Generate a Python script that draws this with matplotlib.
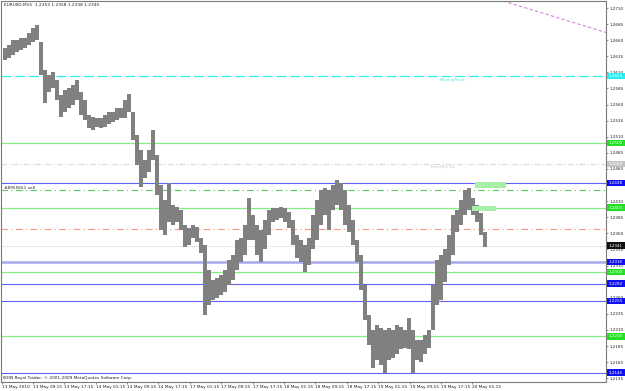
import matplotlib
matplotlib.use("Agg")
import matplotlib.pyplot as plt
import matplotlib.transforms as mtransforms
from matplotlib.patches import Rectangle
import numpy as np

# ---------------- data ----------------
highs = [1.2648, 1.2653, 1.2660, 1.2660, 1.2663, 1.2663, 1.2671, 1.2679, 1.2684, 1.2657,
         1.2614, 1.2606, 1.2611, 1.2598, 1.2575, 1.2583, 1.2586, 1.2590, 1.2598, 1.2580,
         1.2567, 1.2544, 1.2541, 1.2539, 1.2539, 1.2544, 1.2548, 1.2548, 1.2555, 1.2555,
         1.2567, 1.2576, 1.2548, 1.2513, 1.2490, 1.2474, 1.2490, 1.2521, 1.2482, 1.2435,
         1.2412, 1.2438, 1.2404, 1.2401, 1.2397, 1.2373, 1.2368, 1.2373, 1.2370, 1.2353,
         1.2342, 1.2303, 1.2288, 1.2291, 1.2296, 1.2303, 1.2319, 1.2327, 1.2350, 1.2353,
         1.2373, 1.2415, 1.2389, 1.2373, 1.2366, 1.2381, 1.2397, 1.2399, 1.2399, 1.2401,
         1.2399, 1.2393, 1.2381, 1.2358, 1.2350, 1.2342, 1.2353, 1.2389, 1.2412, 1.2428,
         1.2430, 1.2428, 1.2435, 1.2443, 1.2438, 1.2428, 1.2404, 1.2381, 1.2350, 1.2327,
         1.2280, 1.2234, 1.2210, 1.2218, 1.2213, 1.2210, 1.2213, 1.2210, 1.2218, 1.2215,
         1.2210, 1.2229, 1.2210, 1.2195, 1.2195, 1.2203, 1.2210, 1.2280, 1.2319, 1.2327,
         1.2335, 1.2358, 1.2389, 1.2397, 1.2412, 1.2428, 1.2430, 1.2415, 1.2404, 1.2391,
         1.2362]
lows = [1.2629, 1.2632, 1.2637, 1.2642, 1.2645, 1.2648, 1.2653, 1.2657, 1.2660, 1.2606,
        1.2562, 1.2580, 1.2586, 1.2567, 1.2541, 1.2548, 1.2555, 1.2559, 1.2567, 1.2544,
        1.2536, 1.2524, 1.2521, 1.2525, 1.2524, 1.2525, 1.2530, 1.2533, 1.2536, 1.2539,
        1.2539, 1.2548, 1.2505, 1.2466, 1.2432, 1.2446, 1.2455, 1.2474, 1.2420, 1.2366,
        1.2358, 1.2378, 1.2373, 1.2378, 1.2366, 1.2339, 1.2342, 1.2353, 1.2347, 1.2329,
        1.2234, 1.2249, 1.2257, 1.2260, 1.2265, 1.2269, 1.2280, 1.2288, 1.2303, 1.2316,
        1.2327, 1.2350, 1.2350, 1.2327, 1.2316, 1.2335, 1.2358, 1.2378, 1.2381, 1.2384,
        1.2378, 1.2368, 1.2342, 1.2322, 1.2316, 1.2300, 1.2311, 1.2335, 1.2350, 1.2373,
        1.2389, 1.2366, 1.2397, 1.2404, 1.2397, 1.2373, 1.2362, 1.2342, 1.2316, 1.2272,
        1.2226, 1.2187, 1.2151, 1.2164, 1.2155, 1.2143, 1.2164, 1.2166, 1.2172, 1.2180,
        1.2182, 1.2180, 1.2143, 1.2164, 1.2160, 1.2172, 1.2182, 1.2210, 1.2249, 1.2257,
        1.2284, 1.2311, 1.2327, 1.2362, 1.2373, 1.2389, 1.2397, 1.2389, 1.2378, 1.2358,
        1.2339]

time_labels = ["13 May 2010", "13 May 09:15", "13 May 17:15", "14 May 01:15", "14 May 09:15",
               "14 May 17:15", "17 May 01:15", "17 May 09:15", "17 May 17:15", "18 May 01:15",
               "18 May 09:15", "18 May 17:15", "19 May 01:15", "19 May 09:15", "19 May 17:15",
               "20 May 01:15"]
price_ticks = [1.2710, 1.2685, 1.2660, 1.2635, 1.2610, 1.2585, 1.2560, 1.2535, 1.2510,
               1.2485, 1.2460, 1.2435, 1.2410, 1.2385, 1.2360, 1.2335, 1.2310, 1.2285,
               1.2260, 1.2235, 1.2210, 1.2185, 1.2160, 1.2135]

# horizontal levels
level_prices = [1.2604, 1.2500, 1.2468, 1.2438, 1.2427, 1.2400, 1.2367, 1.2341,
                1.2316, 1.2300, 1.2282, 1.2255, 1.2200, 1.2144]
level_kinds = ["pivot", "green", "monthly", "blue", "greendd", "green", "orangedd", "bid",
               "blue2", "green", "blue", "blue", "green", "blue"]
labelled_levels = [1.2604, 1.2500, 1.2468, 1.2438, 1.2400, 1.2341,
                   1.2316, 1.2300, 1.2282, 1.2255, 1.2200, 1.2144]
label_kinds = ["pivot", "green", "monthly", "blue", "green", "bid",
               "blue", "green", "blue", "blue", "green", "blue"]

trend_x = [124.5, 150.25]
trend_y = [1.27209, 1.2672]

order_box_x = [[117.5, 125.25], [116.75, 122.75]]
order_box_y = [[1.2430, 1.2440], [1.2395, 1.2403]]

header = "EURUSD,M15  1.2353 1.2358 1.2338 1.2340"
footer = "IKON Royal Trader, \u00a9 2001-2009 MetaQuotes Software Corp."

# ---------------- layout ----------------
W, H = 625, 391
fig = plt.figure(figsize=(W / 100, H / 100), dpi=100)
fig.patch.set_facecolor("white")
left_px, right_px, top_px, bot_px = 1.5, 606, 1, 382
ax = fig.add_axes([left_px / W, 1 - bot_px / H, (right_px - left_px) / W, (bot_px - top_px) / H])
ax.set_facecolor("white")

ppp = 0.0025 / 16.1          # price per pixel


def price_at(px):
    return 1.2710 - (px - 8) * ppp


def xunit_at(px):
    return (px - 5) / 4.0


ax.set_ylim(price_at(bot_px), price_at(top_px))
ax.set_xlim(xunit_at(left_px), xunit_at(right_px))

hi = np.array(highs)
lo = np.array(lows)
xs = np.arange(len(hi))
ax.bar(xs, hi - lo, bottom=lo, width=1.0, color="#808080", linewidth=0, zorder=3)

styles = {
    "pivot": dict(color="#33eeee", lw=0.9, dashes=(8, 3)),
    "green": dict(color="#80f080", lw=0.9, ls="-"),
    "monthly": dict(color="#e6d4d4", lw=0.8, dashes=(5, 2, 1, 2)),
    "blue": dict(color="#6262f6", lw=0.8, ls="-"),
    "greendd": dict(color="#60c860", lw=0.8, dashes=(6, 3, 1, 3)),
    "orangedd": dict(color="#f59a80", lw=0.8, dashes=(6, 3, 1, 3)),
    "bid": dict(color="#d8cccc", lw=0.7, dashes=(1, 1)),
    "blue2": dict(color="#a8a8ec", lw=1.8, ls="-"),
}
for p, k in zip(level_prices, level_kinds):
    ax.axhline(p, zorder=2, **styles[k])

ax.plot(trend_x, trend_y, color="#d488d4", lw=0.8, dashes=(3, 2), zorder=2, clip_on=True)

for bx, by in zip(order_box_x, order_box_y):
    ax.add_patch(Rectangle((bx[0], by[0]), bx[1] - bx[0], by[1] - by[0],
                           facecolor="#a8f0a8", edgecolor="none", zorder=4))

# annotations
fs = 3.1
ax.text(xunit_at(440), price_at(80.5), "WeeklyPivot", color="#55e0e0", fontsize=fs,
        va="center", ha="left", zorder=5)
ax.text(xunit_at(431), price_at(167), "Monthly S1", color="#c8c8c8", fontsize=fs,
        va="center", ha="left", zorder=5)
ax.text(xunit_at(4.5), price_at(188), "#8955651 sell", color="#202020", fontsize=fs,
        va="center", ha="left", zorder=5)
fig.text(3.5 / W, 1 - 5.3 / H, header, fontsize=fs, va="center", ha="left", color="#202020")
ax.text(xunit_at(3), price_at(378.5), footer, fontsize=fs, va="center", ha="left",
        color="#202020", zorder=5)

# axes styling
for s in ax.spines.values():
    s.set_color("#7a7a7a")
    s.set_linewidth(0.8)
ax.yaxis.tick_right()
ax.set_yticks(price_ticks)
# tick labels lying under a price box are hidden, as in the terminal
tick_texts = []
for p in price_ticks:
    hidden = any(abs(p - q) / ppp < 3.0 for q in labelled_levels)
    tick_texts.append("" if hidden else "%.4f" % p)
ax.set_yticklabels(tick_texts)
ax.tick_params(axis="y", which="both", length=1.5, width=0.6, pad=1.2, labelsize=3.0,
               colors="#7a7a7a", labelcolor="#202020")
tick_pos = [xunit_at(1.5 + 31.4 * k) for k in range(len(time_labels))]
ax.set_xticks(tick_pos)
ax.set_xticklabels(time_labels, ha="left")
ax.tick_params(axis="x", length=1.5, width=0.6, pad=0.6, labelsize=fs,
               colors="#7a7a7a", labelcolor="#202020")

# right-hand price boxes
trans = mtransforms.blended_transform_factory(fig.transFigure, ax.transData)
box_colors = {"pivot": "#22f0f0", "green": "#22e022", "monthly": "#c4c4c4",
              "blue": "#1010ee", "bid": "#101010"}
for p, k in zip(labelled_levels, label_kinds):
    ax.add_patch(Rectangle((607 / W, p - 3.2 * ppp), 17.5 / W, 6.4 * ppp, transform=trans,
                           facecolor=box_colors[k], edgecolor="none", clip_on=False, zorder=6))
    ax.text(615.5 / W, p, "%.4f" % p, transform=trans, fontsize=3.0, color="white",
            ha="center", va="center", clip_on=False, zorder=7)

fig.savefig("out.png", dpi=100, facecolor="white")
